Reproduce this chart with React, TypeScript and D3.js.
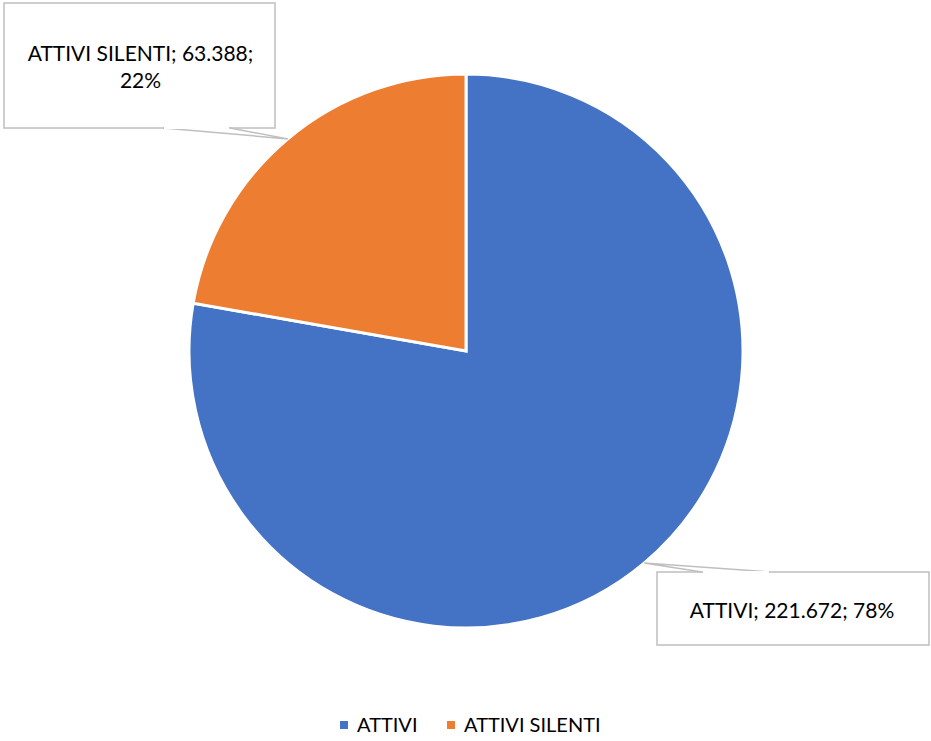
import React from "react";
import * as d3 from "d3";

const categories = ["ATTIVI", "ATTIVI SILENTI"];
const values = [221672, 63388];
const colors = ["#4472C4", "#ED7D31"];

const W = 931;
const H = 741;
const cx = 466;
const cy = 351;
const R = 277;
const FONT = "Lato, 'Open Sans', sans-serif";

// label box layouts
const boxes = [
  { x: 657, y: 572, w: 272, h: 73, b0: 702, b1: 770, side: "top" },
  { x: 4, y: 3, w: 271, h: 125, b0: 163, b1: 230, side: "bottom" },
];

const itFmt = d3.formatLocale({ decimal: ",", thousands: ".", grouping: [3], currency: ["", "€"] }).format(",d");

export default function App() {
  const total = d3.sum(values);
  const pie = d3.pie<number>().sort(null).value((d) => d)(values);
  const arc = d3.arc<d3.PieArcDatum<number>>().innerRadius(0).outerRadius(R);

  return (
    <svg width={W} height={H} style={{ position: "absolute", left: 0, top: 0, background: "#fff" }}>
      <rect width={W} height={H} fill="#fff" />
      <g transform={`translate(${cx},${cy})`}>
        {pie.map((p, i) => (
          <path key={i} d={arc(p) || ""} fill={colors[i]} stroke="#fff" strokeWidth={3} strokeLinejoin="miter" />
        ))}
      </g>
      {pie.map((p, i) => {
        const b = boxes[i];
        const mid = (p.startAngle + p.endAngle) / 2;
        const px = cx + R * Math.sin(mid);
        const py = cy - R * Math.cos(mid);
        const by = b.side === "top" ? b.y : b.y + b.h;
        const pct = Math.round((values[i] / total) * 100) + "%";
        const txt = `${categories[i]}; ${itFmt(values[i])}; ${pct}`;
        return (
          <g key={"l" + i}>
            <rect x={b.x} y={b.y} width={b.w} height={b.h} fill="#fff" stroke="#BFBFBF" strokeWidth={1.5} />
            <polygon points={`${b.b0},${by} ${px},${py} ${b.b1},${by}`} fill="#fff" stroke="#BFBFBF" strokeWidth={1.5} />
            <line x1={b.b0 + 1} y1={by} x2={b.b1 - 1} y2={by} stroke="#fff" strokeWidth={2} />
            {i === 0 ? (
              <text x={b.x + b.w / 2 - 1} y={618} textAnchor="middle" fontFamily={FONT} fontSize={21} fill="#000">
                {txt}
              </text>
            ) : (
              <text textAnchor="middle" fontFamily={FONT} fontSize={21} fill="#000">
                <tspan x={b.x + b.w / 2 + 1} y={61}>{`${categories[i]}; ${itFmt(values[i])};`}</tspan>
                <tspan x={b.x + b.w / 2 + 1} y={88}>{pct}</tspan>
              </text>
            )}
          </g>
        );
      })}
      <g>
        {categories.map((c, i) => {
          const lx = [340, 447][i];
          return (
            <g key={"lg" + i}>
              <rect x={lx} y={721} width={8} height={8} fill={colors[i]} />
              <text x={lx + 17} y={732} fontFamily={FONT} fontSize={20} fill="#000">
                {c}
              </text>
            </g>
          );
        })}
      </g>
    </svg>
  );
}
